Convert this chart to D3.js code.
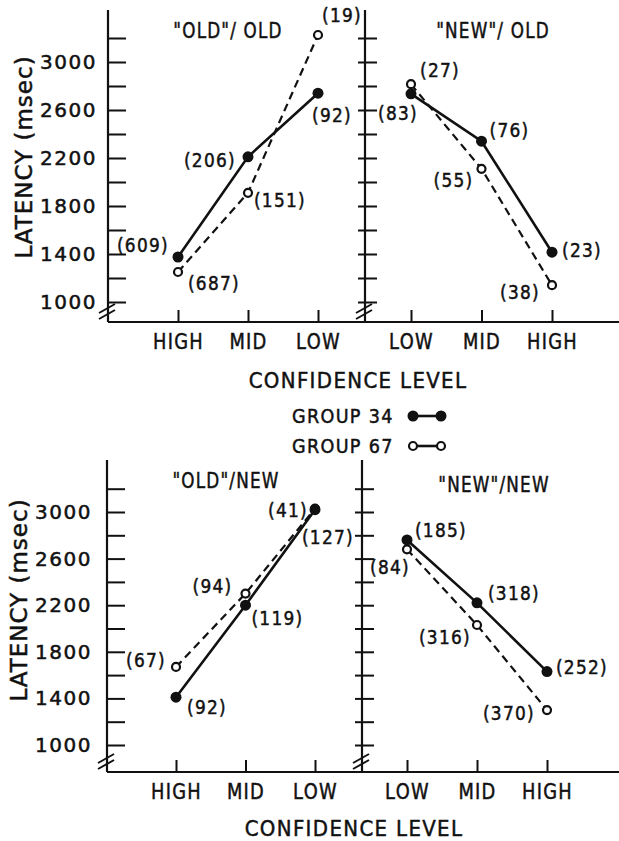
<!DOCTYPE html>
<html>
<head>
<meta charset="utf-8">
<script src="https://cdn.jsdelivr.net/npm/d3@7"></script>
<style>
  body { margin: 0; background: #fff; }
  svg text { font-family: "DejaVu Sans", sans-serif; fill: #111; stroke: #111; stroke-width: 0.5px; }
</style>
</head>
<body>
<div id="chart"></div>
<script>
// categories
var oldCats = ["HIGH", "MID", "LOW"];
var newCats = ["LOW", "MID", "HIGH"];
var yTicks = d3.range(1000, 3201, 200);
var yLabels = [1000, 1400, 1800, 2200, 2600, 3000];

// latency (msec)
var oldOld34 = [1375, 2210, 2740];
var oldOld67 = [1250, 1910, 3225];
var newOld34 = [2735, 2340, 1415];
var newOld67 = [2815, 2110, 1140];
var oldNew34 = [1410, 2200, 3020];
var oldNew67 = [1670, 2300, 3030];
var newNew34 = [2760, 2220, 1630];
var newNew67 = [2680, 2030, 1300];

// number of responses shown in brackets
var oldOldN34 = [609, 206, 92];
var oldOldN67 = [687, 151, 19];
var newOldN34 = [83, 76, 23];
var newOldN67 = [27, 55, 38];
var oldNewN34 = [92, 119, 127];
var oldNewN67 = [67, 94, 41];
var newNewN34 = [185, 318, 252];
var newNewN67 = [84, 316, 370];

var W = 619, H = 841;
var svg = d3.select("#chart").append("svg")
  .attr("width", W).attr("height", H);

// the original lettering is narrow; squeeze text horizontally
function squeeze(sel, k) {
  sel.each(function() {
    var t = d3.select(this);
    var x = +t.attr("x") || 0, y = +t.attr("y") || 0;
    t.attr("x", 0).attr("y", 0)
      .attr("transform", "translate(" + x + "," + y + ") scale(" + k + ",1)");
  });
}

// one row = two panels sharing a y scale
function drawRow(row) {
  var g = svg.append("g");
  var y = d3.scaleLinear().domain([1000, 3000]).range([row.y1000, row.y3000]);

  // x axis line across both panels
  g.append("line")
    .attr("x1", row.leftAxis).attr("x2", W)
    .attr("y1", row.xAxisY).attr("y2", row.xAxisY)
    .attr("stroke", "#111").attr("stroke-width", 2);

  // left y axis, ticks to the right
  g.append("line")
    .attr("x1", row.leftAxis).attr("x2", row.leftAxis)
    .attr("y1", row.axisTop).attr("y2", row.xAxisY)
    .attr("stroke", "#111").attr("stroke-width", 2.2);
  var ya = g.append("g")
    .attr("transform", "translate(" + row.leftAxis + ",0)")
    .call(d3.axisLeft(y).tickValues(yTicks).tickSizeInner(-18).tickSizeOuter(0).tickPadding(row.yPad)
      .tickFormat(function(d) { return yLabels.indexOf(d) >= 0 ? d : ""; }));
  ya.select(".domain").remove();
  ya.selectAll("line").attr("stroke", "#111").attr("stroke-width", 2);
  ya.selectAll("text").style("font-size", "20px").style("letter-spacing", "1.5px").attr("fill", "#111");

  // middle y axis, ticks on both sides, no labels
  g.append("line")
    .attr("x1", row.rightAxis).attr("x2", row.rightAxis)
    .attr("y1", row.axisTop).attr("y2", row.xAxisY)
    .attr("stroke", "#111").attr("stroke-width", 2.2);
  [d3.axisLeft(y).tickSizeInner(7), d3.axisRight(y).tickSizeInner(12)].forEach(function(ax) {
    var a = g.append("g")
      .attr("transform", "translate(" + row.rightAxis + ",0)")
      .call(ax.tickValues(yTicks).tickSizeOuter(0).tickFormat(""));
    a.select(".domain").remove();
    a.selectAll("line").attr("stroke", "#111").attr("stroke-width", 2);
  });

  // axis breaks
  [row.leftAxis, row.rightAxis].forEach(function(ax) {
    [0, 6].forEach(function(o) {
      g.append("line")
        .attr("x1", ax - 9).attr("y1", row.xAxisY - 3 - o)
        .attr("x2", ax + 7).attr("y2", row.xAxisY - 12 - o)
        .attr("stroke", "#111").attr("stroke-width", 2);
    });
  });

  // y label
  g.append("text")
    .attr("transform", "translate(" + row.yLabelX + "," + row.yLabelY + ") rotate(-90)")
    .attr("text-anchor", "middle")
    .style("font-size", "23px")
    .style("letter-spacing", "1px")
    .text("LATENCY (msec)");

  row.panels.forEach(function(p) {
    var x = d3.scalePoint().domain(p.cats).range(p.range);
    var xa = g.append("g")
      .attr("transform", "translate(0," + row.xAxisY + ")")
      .call(d3.axisBottom(x).tickSizeInner(-12).tickSizeOuter(0).tickPadding(12));
    xa.select(".domain").remove();
    xa.selectAll("line").attr("stroke", "#111").attr("stroke-width", 2);
    xa.selectAll("text").style("font-size", "21px").style("letter-spacing", "1.5px").attr("fill", "#111")
      .call(squeeze, 0.85);

    g.append("text")
      .attr("x", p.titleX).attr("y", p.titleY)
      .attr("text-anchor", "middle")
      .style("font-size", "21px")
      .style("letter-spacing", "1.5px")
      .text(p.title)
      .call(squeeze, 0.8);

    var line = d3.line()
      .x(function(d, i) { return x(p.cats[i]); })
      .y(function(d) { return y(d); });

    g.append("path").datum(p.s67).attr("d", line)
      .attr("fill", "none").attr("stroke", "#111").attr("stroke-width", 2.2)
      .attr("stroke-dasharray", "8,5");
    g.append("path").datum(p.s34).attr("d", line)
      .attr("fill", "none").attr("stroke", "#111").attr("stroke-width", 2.6);

    g.selectAll(null).data(p.s67).enter().append("circle")
      .attr("cx", function(d, i) { return x(p.cats[i]); })
      .attr("cy", function(d) { return y(d); })
      .attr("r", 4).attr("fill", "#fff").attr("stroke", "#111").attr("stroke-width", 2.2);
    g.selectAll(null).data(p.s34).enter().append("circle")
      .attr("cx", function(d, i) { return x(p.cats[i]); })
      .attr("cy", function(d) { return y(d); })
      .attr("r", 5.5).attr("fill", "#111");

    [[p.s34, p.n34, p.off34], [p.s67, p.n67, p.off67]].forEach(function(s) {
      g.selectAll(null).data(s[0]).enter().append("text")
        .attr("x", function(d, i) { return x(p.cats[i]) + s[2][i][0]; })
        .attr("y", function(d, i) { return y(d) + s[2][i][1]; })
        .attr("text-anchor", "middle")
        .attr("dominant-baseline", "central")
        .style("font-size", "20px")
        .style("letter-spacing", "1.5px")
        .text(function(d, i) { return "(" + s[1][i] + ")"; })
        .call(squeeze, 0.85);
    });
  });

  g.append("text")
    .attr("x", row.xLabelX).attr("y", row.xLabelY)
    .attr("text-anchor", "middle")
    .style("font-size", "22px")
    .style("letter-spacing", "1.5px")
    .text("CONFIDENCE LEVEL")
    .call(squeeze, 0.9);
}

drawRow({
  axisTop: 10, xAxisY: 322, y1000: 302, y3000: 62,
  leftAxis: 108, rightAxis: 365, yPad: 11,
  yLabelX: 32, yLabelY: 157, xLabelX: 358, xLabelY: 388,
  panels: [
    { title: "\"OLD\"/ OLD", titleX: 228, titleY: 38, cats: oldCats, range: [178, 318],
      s34: oldOld34, s67: oldOld67, n34: oldOldN34, n67: oldOldN67,
      off34: [[-35, -12], [-38, 3], [14, 22]], off67: [[36, 11], [32, 7], [24, -20]] },
    { title: "\"NEW\"/ OLD", titleX: 493, titleY: 38, cats: newCats, range: [411, 552],
      s34: newOld34, s67: newOld67, n34: newOldN34, n67: newOldN67,
      off34: [[-13, 19], [28, -11], [30, -2]], off67: [[29, -14], [-28, 11], [-32, 7]] }
  ]
});

drawRow({
  axisTop: 460, xAxisY: 772, y1000: 745, y3000: 512,
  leftAxis: 107, rightAxis: 362, yPad: 15,
  yLabelX: 27, yLabelY: 600, xLabelX: 354, xLabelY: 836,
  panels: [
    { title: "\"OLD\"/NEW", titleX: 226, titleY: 488, cats: oldCats, range: [176, 315],
      s34: oldNew34, s67: oldNew67, n34: oldNewN34, n67: oldNewN67,
      off34: [[31, 10], [32, 13], [13, 27]], off67: [[-30, -7], [-33, -8], [-27, 1]] },
    { title: "\"NEW\"/NEW", titleX: 494, titleY: 492, cats: newCats, range: [407, 547],
      s34: newNew34, s67: newNew67, n34: newNewN34, n67: newNewN67,
      off34: [[34, -10], [37, -10], [35, -5]], off67: [[-17, 18], [-32, 12], [-38, 3]] }
  ]
});

// legend
var legend = svg.append("g");
[["GROUP 34", true, 416], ["GROUP 67", false, 446]].forEach(function(l) {
  legend.append("text")
    .attr("x", 292).attr("y", l[2])
    .attr("dominant-baseline", "central")
    .style("font-size", "20px")
    .style("letter-spacing", "1.5px")
    .text(l[0])
    .call(squeeze, 0.88);
  legend.append("line")
    .attr("x1", 413).attr("x2", 441).attr("y1", l[2]).attr("y2", l[2])
    .attr("stroke", "#111").attr("stroke-width", 2.6);
  [413, 441].forEach(function(cx) {
    legend.append("circle")
      .attr("cx", cx).attr("cy", l[2])
      .attr("r", l[1] ? 5.5 : 4)
      .attr("fill", l[1] ? "#111" : "#fff")
      .attr("stroke", "#111").attr("stroke-width", l[1] ? 0 : 2.2);
  });
});
</script>
</body>
</html>
